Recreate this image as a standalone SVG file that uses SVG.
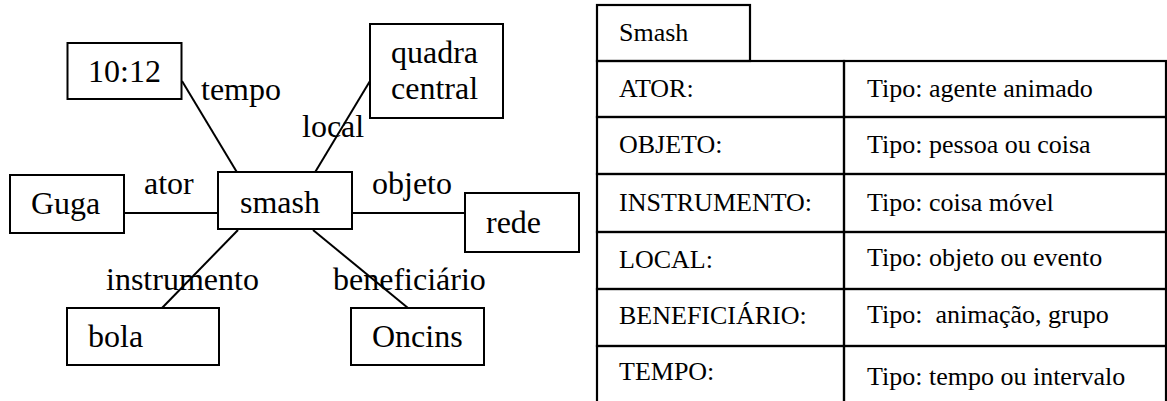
<svg xmlns="http://www.w3.org/2000/svg" width="1167" height="401" viewBox="0 0 1167 401">
<style>
.box{fill:#fff;stroke:#000;stroke-width:2}
.conn line{stroke:#000;stroke-width:2}
.cell{fill:none;stroke:#000;stroke-width:2.2}
</style>
<rect width="1167" height="401" fill="#fff"/>
<g class="conn" id="connectors">
<line x1="182" y1="81" x2="238" y2="174"/>
<line x1="370" y1="81" x2="314" y2="174"/>
<line x1="124" y1="213" x2="218" y2="213"/>
<line x1="352" y1="213" x2="465" y2="213"/>
<line x1="238" y1="230" x2="162" y2="308"/>
<line x1="313" y1="230" x2="408" y2="308"/>
<g font-family="Liberation Serif, serif" font-size="32">
<text x="201" y="100">tempo</text>
<text x="302" y="137">local</text>
<text x="144" y="194">ator</text>
<text x="372" y="194">objeto</text>
<text x="106" y="290">instrumento</text>
<text x="333" y="290">beneficiário</text>
</g>
</g>
<g font-family="Liberation Serif, serif" font-size="32">
<g id="n-1012"><rect class="box" x="67.5" y="43" width="114" height="56"/><text x="124.5" y="82" text-anchor="middle">10:12</text></g>
<g id="n-quadra"><rect class="box" x="370" y="24" width="133" height="94"/><text x="391" y="63">quadra</text><text x="391" y="99">central</text></g>
<g id="n-guga"><rect class="box" x="10" y="175" width="114" height="58"/><text x="31" y="214">Guga</text></g>
<g id="n-smash"><rect class="box" x="218" y="172" width="134" height="57"/><text x="240" y="213">smash</text></g>
<g id="n-rede"><rect class="box" x="465" y="193" width="114" height="59"/><text x="486" y="233">rede</text></g>
<g id="n-bola"><rect class="box" x="67" y="308" width="152" height="57"/><text x="88" y="347">bola</text></g>
<g id="n-oncins"><rect class="box" x="351" y="308" width="133" height="57"/><text x="372" y="347">Oncins</text></g>
</g>
<g id="table" font-family="Liberation Serif, serif" font-size="26">
<rect class="cell" x="597" y="5" width="153" height="56"/>
<text x="619" y="41">Smash</text>
<rect class="cell" x="597" y="61" width="247" height="56"/>
<rect class="cell" x="844" y="61" width="322" height="56"/>
<rect class="cell" x="597" y="117" width="247" height="57"/>
<rect class="cell" x="844" y="117" width="322" height="57"/>
<rect class="cell" x="597" y="174" width="247" height="58"/>
<rect class="cell" x="844" y="174" width="322" height="58"/>
<rect class="cell" x="597" y="232" width="247" height="57"/>
<rect class="cell" x="844" y="232" width="322" height="57"/>
<rect class="cell" x="597" y="289" width="247" height="57"/>
<rect class="cell" x="844" y="289" width="322" height="57"/>
<rect class="cell" x="597" y="346" width="247" height="60"/>
<rect class="cell" x="844" y="346" width="322" height="60"/>
<text x="619" y="97">ATOR:</text>
<text x="619" y="153">OBJETO:</text>
<text x="619" y="211">INSTRUMENTO:</text>
<text x="619" y="268">LOCAL:</text>
<text x="619" y="324">BENEFICIÁRIO:</text>
<text x="619" y="380">TEMPO:</text>
<text x="867" y="97">Tipo: agente animado</text>
<text x="867" y="153">Tipo: pessoa ou coisa</text>
<text x="867" y="211">Tipo: coisa móvel</text>
<text x="867" y="266">Tipo: objeto ou evento</text>
<text x="867" y="323">Tipo:&#160; animação, grupo</text>
<text x="867" y="385">Tipo: tempo ou intervalo</text>
</g>
</svg>
